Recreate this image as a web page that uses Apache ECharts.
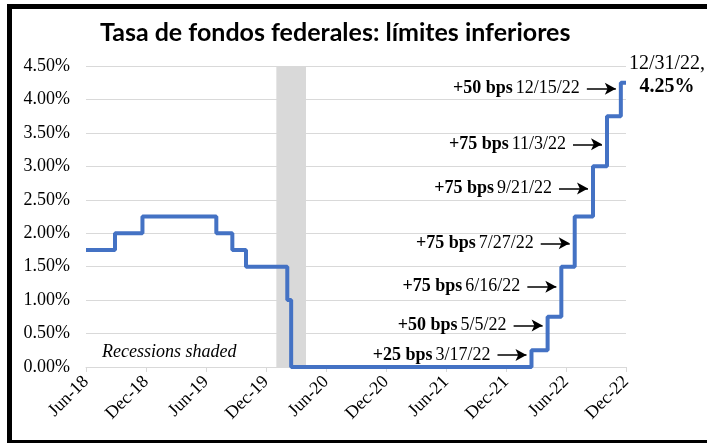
<!DOCTYPE html>
<html>
<head>
<meta charset="utf-8">
<script src="https://cdn.jsdelivr.net/npm/echarts@6/dist/echarts.min.js"></script>
<style>
  html, body { margin: 0; padding: 0; background: #fff; }
  #chart { width: 707px; height: 443px; }
</style>
</head>
<body>
<div id="chart"></div>
<script>
// axis runs from end of Jun-18 to end of Dec-22, in months
const axisStart = "2018-06-30";
const xTickLabels = ["Jun-18", "Dec-18", "Jun-19", "Dec-19", "Jun-20", "Dec-20", "Jun-21", "Dec-21", "Jun-22", "Dec-22"];

// fed funds lower bound, value from each date on
const rateDates = ["2018-06-30", "2018-09-27", "2018-12-20", "2019-08-01", "2019-09-19", "2019-10-31",
  "2020-03-04", "2020-03-16", "2022-03-17", "2022-05-05", "2022-06-16", "2022-07-27",
  "2022-09-21", "2022-11-03", "2022-12-15", "2022-12-31"];
const rateValues = [1.75, 2.00, 2.25, 2.00, 1.75, 1.50, 1.00, 0.00, 0.25, 0.75, 1.50, 2.25, 3.00, 3.75, 4.25, 4.25];

const recession = ["2020-02-01", "2020-04-30"];

// hike annotations
const hikeSizes = ["+25 bps", "+50 bps", "+75 bps", "+75 bps", "+75 bps", "+75 bps", "+50 bps"];
const hikeDates = ["2022-03-17", "2022-05-05", "2022-06-16", "2022-07-27", "2022-09-21", "2022-11-03", "2022-12-15"];
const hikeDateText = ["3/17/22", "5/5/22", "6/16/22", "7/27/22", "9/21/22", "11/3/22", "12/15/22"];
const arrowLevels = [0.18, 0.62, 1.20, 1.85, 2.67, 3.33, 4.16];

const endText = ["12/31/22,", "4.25%"];

function monthIndex(s) {
  const [y, m, d] = s.split("-").map(Number);
  const dim = new Date(y, m, 0).getDate();
  return y * 12 + (m - 1) + d / dim;
}
const x0 = monthIndex(axisStart);
const pos = (s) => monthIndex(s) - x0;

const serif = "'Liberation Serif', 'Times New Roman', serif";
const chart = echarts.init(document.getElementById("chart"));

const lineData = rateDates.map((d, i) => [pos(d), rateValues[i]]);

const arrows = hikeDates.map((d, i) => {
  const tip = pos(d) - 0.5;
  return [
    {
      coord: [tip - 2.9, arrowLevels[i]],
      label: { formatter: "{b|" + hikeSizes[i] + "} {n|" + hikeDateText[i] + "}" }
    },
    { coord: [tip, arrowLevels[i]] }
  ];
});

const option = {
  animation: false,
  textStyle: { fontFamily: serif },
  grid: { left: 86, right: 81, top: 66, bottom: 76 },
  graphic: [
    {
      type: "rect",
      shape: { x: 9.5, y: 6.5, width: 720, height: 436 },
      style: { fill: "none", stroke: "#000", lineWidth: 5 },
      silent: true
    },
    {
      type: "text",
      left: 102,
      top: 343,
      style: { text: "Recessions shaded", fontFamily: serif, fontStyle: "italic", fontSize: 18, fill: "#000" }
    }
  ],
  title: {
    text: "Tasa de fondos federales: límites inferiores",
    left: 100,
    top: 20,
    padding: 0,
    textStyle: { fontFamily: "Lato", fontWeight: "bold", fontSize: 25, color: "#000" }
  },
  xAxis: {
    type: "value",
    min: 0,
    max: 54,
    interval: 6,
    axisLine: { show: true, lineStyle: { color: "#d9d9d9", width: 1 } },
    axisTick: { show: true, length: 5, lineStyle: { color: "#d9d9d9" } },
    splitLine: { show: false },
    axisLabel: {
      rotate: 45,
      margin: 12,
      fontFamily: serif,
      fontSize: 18,
      color: "#000",
      formatter: (v) => xTickLabels[Math.round(v / 6)]
    }
  },
  yAxis: {
    type: "value",
    min: 0,
    max: 4.5,
    interval: 0.5,
    axisLine: { show: false },
    axisTick: { show: false },
    splitLine: { lineStyle: { color: "#d9d9d9", width: 1 } },
    axisLabel: {
      margin: 16,
      fontFamily: serif,
      fontSize: 18,
      color: "#000",
      formatter: (v) => v.toFixed(2) + "%"
    }
  },
  series: [
    {
      type: "line",
      z: 1,
      data: [],
      silent: true,
      markArea: {
        silent: true,
        itemStyle: { color: "#d9d9d9" },
        data: [[{ xAxis: pos(recession[0]) }, { xAxis: pos(recession[1]) }]]
      }
    },
    {
      type: "line",
      z: 3,
      step: "end",
      data: lineData,
      showSymbol: false,
      lineStyle: { color: "#4472c4", width: 4 },
      silent: true,
      markLine: {
        silent: true,
        symbol: ["none", "arrow"],
        symbolSize: [9, 11],
        lineStyle: { color: "#000", width: 1.5, type: "solid" },
        label: {
          position: "start",
          distance: 7,
          rich: {
            b: { fontFamily: serif, fontSize: 18, fontWeight: "bold", color: "#000" },
            n: { fontFamily: serif, fontSize: 18, color: "#000" }
          }
        },
        data: arrows
      },
      markPoint: {
        silent: true,
        symbol: "circle",
        symbolSize: 0,
        data: [{ coord: lineData[lineData.length - 1] }],
        label: {
          show: true,
          position: "right",
          distance: 3,
          offset: [0, -7],
          formatter: "{n|" + endText[0] + "}\n{b|" + endText[1] + "}",
          rich: {
            n: { fontFamily: serif, fontSize: 20, color: "#000", lineHeight: 23, align: "center" },
            b: { fontFamily: serif, fontSize: 20, fontWeight: "bold", color: "#000", lineHeight: 23, align: "center" }
          }
        }
      }
    }
  ]
};

chart.setOption(option);
</script>
</body>
</html>
